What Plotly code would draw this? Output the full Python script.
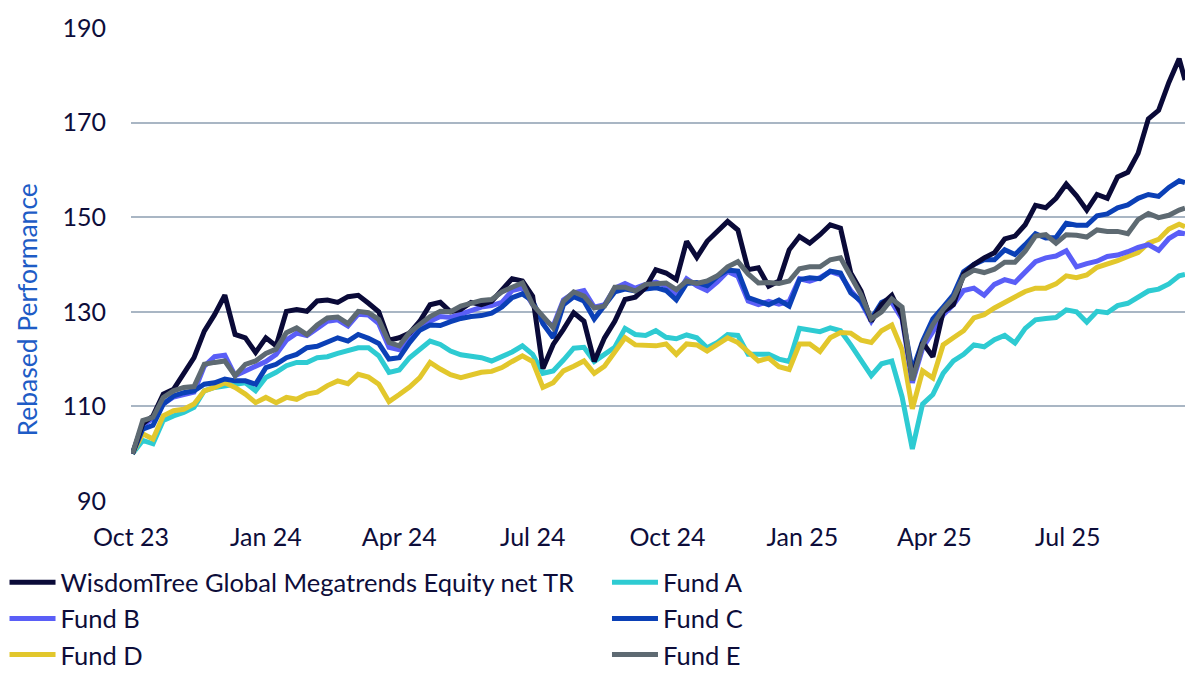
"""Rebased performance of the WisdomTree Global Megatrends index vs peer funds."""

import pandas as pd
import plotly.graph_objects as go

# weekly observations from early Oct 2023, plus the last print in Sep 2025
dates = list(pd.date_range("2023-10-02", periods=103, freq="7D")) + [pd.Timestamp("2025-09-19")]

wisdomtree = [
    100, 106.3, 108, 112.6, 113.6, 116.8, 120.3, 125.9, 129.4, 133.5,
    125.2, 124.5, 121.4, 124.5, 122.8, 130.1, 130.5, 130.1, 132.3, 132.5,
    132, 133.2, 133.5, 131.8, 130, 124, 124.5, 125.5, 128, 131.5,
    132, 130, 130.5, 132, 131.5, 132.2, 134.5, 137, 136.5, 133.3,
    118, 123.1, 126.3, 129.8, 128, 119.5, 124.5, 128, 132.6, 133.1,
    135.1, 138.9, 138.2, 136.8, 144.9, 141.5, 144.9, 147, 149.1, 147.3,
    138.9, 139.3, 135.4, 136.5, 143.1, 145.9, 144.5, 146.3, 148.4, 147.7,
    138.2, 134.4, 128, 131.5, 133.5, 129, 116, 123.5, 120.5, 130,
    131.5, 138, 140, 141.4, 142.5, 145.4, 146, 148.4, 152.5, 152,
    154, 157, 154.5, 151.5, 154.8, 154, 158.5, 159.5, 163.5, 170.8,
    172.6, 178.5, 183.5, 179,
]
fund_a = [
    100, 102.8, 102.1, 107, 108, 108.7, 109.8, 113.3, 114, 114.4,
    114.7, 115, 113.3, 116.1, 117.2, 118.6, 119.3, 119.3, 120.3, 120.5,
    121.2, 121.7, 122.4, 122.4, 120.7, 117.2, 117.7, 120.3, 121.9, 123.8,
    123.1, 121.7, 120.9, 120.7, 120.3, 119.6, 120.5, 121.5, 122.8, 121,
    117, 117.5, 119.8, 122.3, 122.5, 119.5, 121, 122.5, 126.5, 125.2,
    125, 126, 124.6, 124.3, 125.1, 124.5, 122.4, 123.5, 125.2, 125,
    121, 121, 121, 120, 119.5, 126.5, 126.2, 125.8, 126.6, 126,
    123, 119.8, 116.5, 119, 119.6, 112, 101, 110.5, 112.5, 117,
    119.6, 121, 123, 122.6, 124.1, 125, 123.4, 126.5, 128.3, 128.6,
    128.8, 130.4, 130, 127.8, 130.1, 129.8, 131.3, 131.8, 133, 134.4,
    134.8, 135.9, 137.6, 137.9,
]
fund_b = [
    100, 106, 107.5, 110.5, 112, 112.5, 113, 118.5, 120.5, 120.8,
    116.5, 117.5, 118.5, 119.5, 121, 124, 125.5, 125, 126.5, 128,
    128.3, 127, 129.5, 129.3, 127.5, 122.5, 122, 124.5, 126.5, 128,
    129, 128.8, 129.5, 130.3, 131, 131.3, 132, 134.5, 135, 131.5,
    128.5, 127, 132.5, 134, 134.5, 131, 131.5, 135, 136, 135,
    135.8, 136.3, 135.5, 133.5, 137, 135.5, 134.5, 136.3, 138.5, 137.5,
    132.3, 131.5, 132.2, 131.6, 132.2, 137, 136.5, 137.2, 138.5, 137.8,
    134.5, 132, 128, 131.5, 132, 128.5, 115, 122.3, 126, 129.3,
    131.5, 134.5, 135, 133.5, 135.8, 136.8, 136.2, 138.5, 140.6, 141.4,
    141.8, 142.9, 139.5, 140.2, 140.7, 141.7, 142, 142.7, 143.6, 144.2,
    143, 145.5, 146.8, 146.5,
]
fund_c = [
    100, 105.2, 106, 110.5, 112.2, 112.9, 113.3, 114.7, 115, 115.8,
    115.4, 115.4, 114.7, 118.2, 118.9, 120.3, 121, 122.4, 122.7, 123.5,
    124.5, 123.8, 125.2, 124.4, 123.3, 120, 120.3, 123.5, 126.1, 127.2,
    127.1, 127.9, 128.6, 129, 129.2, 129.7, 131, 133, 133.8, 132.3,
    127.5, 124.5, 131.5, 133.2, 132.3, 128.5, 131.5, 134.2, 134.8, 134.4,
    134.8, 135.1, 134.5, 132.5, 136, 136.2, 135.5, 137.5, 138.8, 138.6,
    133, 132.2, 131.5, 132.5, 131.2, 136.8, 137.2, 137, 138.6, 138.2,
    134, 132.3, 128.5, 132, 133, 129.5, 117.5, 123.8, 128.5, 131,
    133.6, 138.5, 140, 141, 141, 143.1, 142.1, 144.2, 146.5, 145.6,
    145.7, 148.7, 148.3, 148.3, 150.3, 150.7, 152, 152.6, 154, 154.8,
    154.4, 156.3, 157.7, 157.3,
]
fund_d = [
    100, 104.2, 103.1, 108, 109.1, 109.4, 110.5, 113.3, 114, 115,
    114, 112.6, 110.8, 111.9, 110.8, 111.9, 111.5, 112.6, 113, 114.4,
    115.4, 114.8, 116.8, 116.2, 114.7, 111, 112.5, 114.1, 116.1, 119.3,
    117.9, 116.7, 116.1, 116.7, 117.2, 117.4, 118.2, 119.5, 120.7, 119.5,
    114, 115, 117.5, 118.5, 119.6, 117, 118.5, 121.5, 124.5, 123,
    123, 122.8, 123.2, 121, 123.2, 123, 121.7, 123, 124.5, 123.5,
    121.5, 119.6, 120.2, 118.4, 117.8, 123.2, 123.2, 121.6, 124.5, 125.6,
    125.5, 124, 123.5, 126, 127.2, 122, 109.5, 117.5, 116, 123,
    124.5, 126, 128.7, 129.4, 130.8, 132, 133, 134.3, 135, 135,
    135.9, 137.6, 137.2, 137.8, 139.4, 140, 140.8, 141.7, 142.5, 144.5,
    145.3, 147.5, 148.5, 148,
]
fund_e = [
    100, 107, 107.7, 111.9, 113.3, 114, 114.2, 118.9, 119.3, 119.6,
    116.5, 118.9, 119.6, 121.2, 122.1, 125.6, 126.6, 125.2, 127.2, 128.7,
    128.9, 127.5, 130.1, 129.8, 128.4, 123.5, 122.8, 125.6, 127.3, 129,
    130.1, 130, 131.2, 131.9, 132.4, 132.6, 134.2, 135.2, 136.1, 131.5,
    129.1, 126.6, 132.2, 134.2, 133.3, 130.8, 131.2, 135.2, 135.2, 134.4,
    135.8, 135.9, 136.1, 134.7, 136.5, 136, 136.5, 137.6, 139.5, 140.6,
    138, 136.1, 136.2, 136, 136.5, 139.1, 139.5, 139.5, 141, 141.4,
    137.5, 133.6, 128.5, 130, 132.7, 131, 115.5, 123, 127.3, 130.5,
    132.9, 137.5, 138.8, 138.3, 139, 140.5, 140.5, 142.8, 146, 146.3,
    144.5, 146.3, 146.2, 145.8, 147.3, 147, 147, 146.5, 149.5, 150.8,
    149.9, 150.4, 151.5, 151.9,
]

# (name, values, colour, legend column, rank) in drawing order
series = [
    ("Fund A", fund_a, "#2ecbd2", "legend2", 1),
    ("Fund D", fund_d, "#e2c72c", "legend", 3),
    ("Fund B", fund_b, "#5a5ef7", "legend", 2),
    ("Fund C", fund_c, "#0b40b6", "legend2", 2),
    ("WisdomTree Global Megatrends Equity net TR", wisdomtree, "#0a0a38", "legend", 1),
    ("Fund E", fund_e, "#5e6a72", "legend2", 3),
]

TEXT = "#0d0d3a"
FONT = "Lato"

fig = go.Figure()
for name, values, color, legend, rank in series:
    fig.add_trace(
        go.Scatter(
            x=dates,
            y=values,
            name=name,
            mode="lines",
            line={"color": color, "width": 5},
            legend=legend,
            legendrank=rank,
            hovertemplate="%{x|%d %b %Y}: %{y:.1f}<extra></extra>",
        )
    )

legend_style = {
    "orientation": "v",
    "xanchor": "left",
    "y": -0.123,
    "yanchor": "top",
    "font": {"size": 25.5, "color": TEXT},
    "itemwidth": 46,
    "traceorder": "normal",
    "bgcolor": "rgba(0,0,0,0)",
}

fig.update_layout(
    width=1200,
    height=675,
    paper_bgcolor="white",
    plot_bgcolor="white",
    font={"family": FONT, "size": 25, "color": TEXT},
    margin={"l": 123, "r": 23, "t": 20, "b": 182, "autoexpand": False},
    showlegend=True,
    legend={**legend_style, "x": -0.12},
    legend2={**legend_style, "x": 0.4516},
    annotations=[
        {
            "text": "Rebased Performance",
            "xref": "paper",
            "yref": "paper",
            "x": -0.099,
            "y": 0.404,
            "xanchor": "center",
            "yanchor": "middle",
            "textangle": -90,
            "showarrow": False,
            "font": {"size": 26.5, "color": "#1e5cc6"},
        }
    ],
)
fig.update_xaxes(
    range=["2023-10-01", "2025-09-19"],
    tickformat="%b %y",
    dtick="M3",
    tick0="2023-10-01",
    showgrid=False,
    zeroline=False,
    showline=False,
    ticks="",
    ticklabelstandoff=19,
    automargin=False,
)
fig.update_yaxes(
    range=[90, 190],
    tick0=90,
    dtick=20,
    showgrid=True,
    gridcolor="#a9b6c4",
    gridwidth=2,
    zeroline=False,
    showline=False,
    ticks="",
    ticklabelstandoff=24,
    automargin=False,
)

fig.write_html("out.html")
